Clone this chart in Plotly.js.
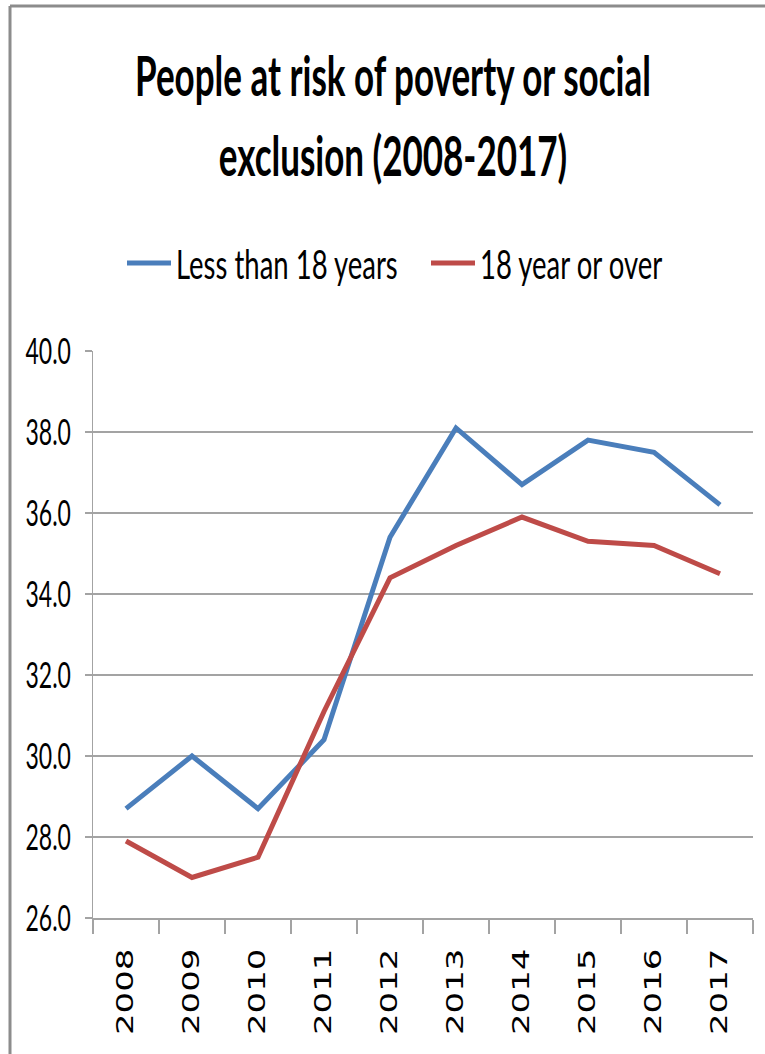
<!DOCTYPE html>
<html>
<head>
<meta charset="utf-8">
<script src="https://cdn.plot.ly/plotly-3.0.1.min.js"></script>
<style>
  html, body { margin: 0; padding: 0; background: #ffffff; }
  #chart { width: 765px; height: 1054px; }
</style>
</head>
<body>
<div id="chart"></div>
<script>
// Yearly share of people at risk of poverty or social exclusion (%)
const years = ['2008', '2009', '2010', '2011', '2012', '2013', '2014', '2015', '2016', '2017'];
const under18 = [28.7, 30.0, 28.7, 30.4, 35.4, 38.1, 36.7, 37.8, 37.5, 36.2];
const adults = [27.9, 27.0, 27.5, 31.1, 34.4, 35.2, 35.9, 35.3, 35.2, 34.5];
const seriesNames = ['Less than 18 years', '18 year or over'];
const titleLines = ['People at risk of poverty or social', 'exclusion (2008-2017)'];

const SANS = 'Lato, "Open Sans", sans-serif';
const GRID = '#a3a3a3';

const W = 765, H = 1054;
const M = { l: 93, r: 12, t: 351, b: 136 };
const PW = W - M.l - M.r, PH = H - M.t - M.b;
// page-pixel helpers for the frame drawn around the chart area
const px = x => (x - M.l) / PW;
const py = y => (H - M.b - y) / PH;

const traces = [
  { x: years, y: under18, name: seriesNames[0], type: 'scatter', mode: 'lines',
    line: { color: '#4A7EBB', width: 5 } },
  { x: years, y: adults, name: seriesNames[1], type: 'scatter', mode: 'lines',
    line: { color: '#BE4B48', width: 5 } }
];

const layout = {
  width: W, height: H,
  margin: M,
  paper_bgcolor: '#ffffff', plot_bgcolor: '#ffffff',
  font: { family: SANS, size: 20, color: '#000000' },
  title: {
    text: titleLines.join('<br>'),
    font: { family: SANS, size: 35, color: '#000000', weight: 'bold' },
    xref: 'container', x: 393 / W, xanchor: 'center',
    yref: 'container', y: 1 - 103 / H, yanchor: 'middle'
  },
  showlegend: true,
  legend: {
    orientation: 'h',
    xref: 'container', x: 122 / W, xanchor: 'left',
    yref: 'container', y: 1 - 263 / H, yanchor: 'middle',
    font: { family: SANS, size: 27.5, color: '#000000' },
    itemwidth: 44, entrywidth: 245, entrywidthmode: 'pixels',
    tracegroupgap: 0
  },
  xaxis: {
    type: 'category', range: [-0.5, years.length - 0.5],
    tickson: 'boundaries', ticks: 'outside', ticklen: 14, tickwidth: 1.5, tickcolor: GRID,
    showgrid: false, zeroline: false,
    showline: true, linecolor: GRID, linewidth: 2,
    tickangle: -90, ticklabelstandoff: 15,
    tickfont: { family: '"DejaVu Sans", Verdana, sans-serif', size: 34, color: '#000000' }
  },
  yaxis: {
    range: [26, 40], dtick: 2, tick0: 26, tickformat: '.1f',
    showgrid: true, gridcolor: GRID, gridwidth: 2, zeroline: false,
    showline: true, linecolor: GRID, linewidth: 1.5,
    ticks: 'outside', ticklen: 7, tickwidth: 2, tickcolor: GRID,
    ticklabelstandoff: 9,
    tickfont: { family: SANS, size: 23, color: '#000000' }
  },
  shapes: [
    { type: 'line', xref: 'paper', yref: 'paper', x0: px(10), x1: px(10), y0: py(H), y1: py(6),
      line: { color: '#8c8c8c', width: 3 } },
    { type: 'line', xref: 'paper', yref: 'paper', x0: px(10), x1: px(W), y0: py(6), y1: py(6),
      line: { color: '#8c8c8c', width: 3 } }
  ]
};

// Scale a text element along its own vertical axis, about its centre.
function stretchY(el, k) {
  const b = el.getBBox();
  const cx = b.x + b.width / 2, cy = b.y + b.height / 2;
  const prev = el.getAttribute('transform') || '';
  el.setAttribute('transform',
    prev + ' translate(' + cx + ',' + cy + ') scale(1,' + k + ') translate(' + (-cx) + ',' + (-cy) + ')');
}

Plotly.newPlot('chart', traces, layout, { displayModeBar: false, staticPlot: true }).then(gd => {
  // a little more room between the two title lines
  gd.querySelectorAll('.gtitle tspan.line').forEach((ln, i) => { if (i > 0) ln.setAttribute('dy', '1.43em'); });
  gd.querySelectorAll('.gtitle').forEach(t => stretchY(t, 1.6));
  gd.querySelectorAll('.legendtext').forEach(t => stretchY(t, 1.5));
  gd.querySelectorAll('.ytick text').forEach(t => stretchY(t, 1.6));
  // year labels: narrow glyphs (rotated, so the local y axis is horizontal on screen)
  gd.querySelectorAll('.xtick text').forEach(t => stretchY(t, 0.68));
});
</script>
</body>
</html>
